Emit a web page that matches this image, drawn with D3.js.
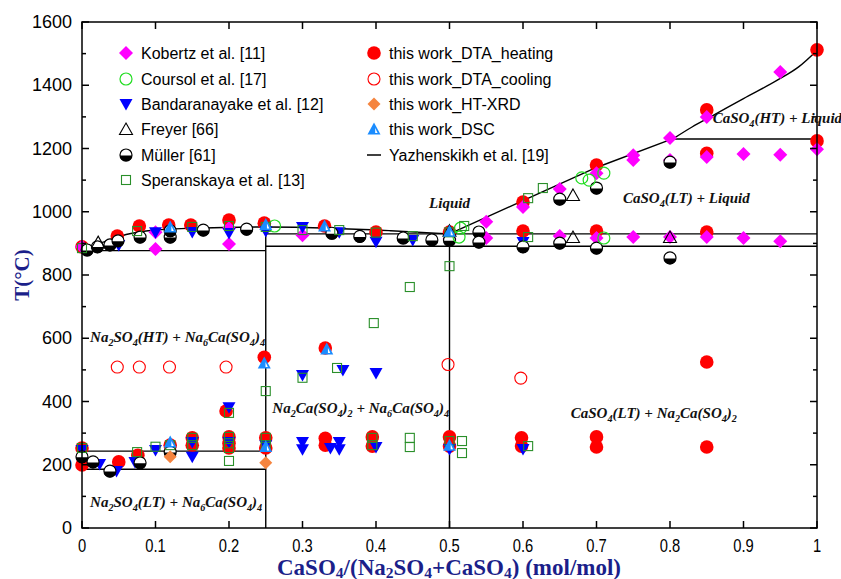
<!DOCTYPE html>
<html><head><meta charset="utf-8">
<script src="https://cdn.jsdelivr.net/npm/d3@7"></script>
<style>body{margin:0;background:#fff}</style>
</head><body><svg id="c" width="841" height="579"></svg>
<script>
// ---------- DATA ----------
const xTicks = [0,0.1,0.2,0.3,0.4,0.5,0.6,0.7,0.8,0.9,1];
const xTickLabels = ["0","0.1","0.2","0.3","0.4","0.5","0.6","0.7","0.8","0.9","1"];
const yTicks = [0,200,400,600,800,1000,1200,1400,1600];
const yMinorTicks = [100,300,500,700,900,1100,1300,1500];

const kobertz = [[0,889],[0.1,935],[0.1,882],[0.2,898],[0.2,948],[0.3,926],[0.5,914],[0.55,968],[0.55,917],[0.6,1015],[0.65,1072],[0.65,923],[0.7,1122],[0.7,917],[0.75,1179],[0.75,1164],[0.75,920],[0.8,1233],[0.8,1164],[0.8,920],[0.85,1300],[0.85,1173],[0.85,920],[0.9,1183],[0.9,917],[0.95,1442],[0.95,1180],[0.95,907],[1,1198]];
const coursol = [[0.262,955],[0.515,948],[0.513,920],[0.68,1107],[0.69,1100],[0.71,1122],[0.71,917]];
const bandaranayake = [[0.05,895],[0.1,935],[0.15,936],[0.2,933],[0.25,939],[0.3,952],[0.35,935],[0.4,905],[0.45,911],[0.6,904],
  [0.2,382],[0.3,484],[0.355,500],[0.4,490],
  [0,247],[0.024,202],[0.047,180],[0.072,209],[0.1,247],[0.15,272],[0.15,225],[0.2,272],[0.25,262],[0.3,272],[0.3,249],[0.338,253],[0.35,272],[0.35,249],[0.4,256],[0.5,250],[0.6,250]];
const freyer = [[0.022,904],[0.5,940],[0.668,1053],[0.668,920],[0.8,920]];
const muller = [[0.007,879],[0.021,889],[0.038,895],[0.049,908],[0.079,920],[0.12,920],[0.12,940],[0.165,942],[0.224,945],[0.34,932],[0.378,922],[0.437,917],[0.476,911],[0.5,910],[0.54,936],[0.54,904],[0.6,889],[0.65,1040],[0.65,901],[0.7,1075],[0.7,885],[0.8,1157],[0.8,854],
  [0,225],[0.015,209],[0.038,180],[0.079,206],[0.12,240]];
const speranskaya = [[0,885],[0.075,939],[0.15,952],[0.2,955],[0.25,952],[0.3,942],[0.35,942],[0.4,934],[0.45,923],[0.5,935],[0.52,955],[0.607,1043],[0.627,1075],[0.607,920],
  [0.25,433],[0.2,364],[0.3,475],[0.347,506],[0.397,648],[0.446,762],[0.5,828],
  [0,253],[0.075,240],[0.1,257],[0.12,262],[0.15,285],[0.15,262],[0.2,288],[0.2,268],[0.2,253],[0.2,212],[0.25,285],[0.25,262],[0.395,285],[0.395,262],[0.446,285],[0.446,256],[0.5,275],[0.517,275],[0.517,237],[0.607,259]];
const dtaHeating = [[0,889],[0.048,923],[0.078,955],[0.118,958],[0.148,958],[0.2,974],[0.248,964],[0.33,955],[0.4,936],[0.5,936],[0.6,1031],[0.6,939],[0.7,1148],[0.7,939],[0.85,1322],[0.85,1185],[0.85,936],[1,1512],[1,1224],
  [0.248,540],[0.196,370],[0.331,569],[0.85,525],
  [0,253],[0,199],[0.05,209],[0.076,230],[0.12,262],[0.15,285],[0.15,262],[0.2,288],[0.2,268],[0.2,253],[0.25,285],[0.25,253],[0.331,284],[0.331,262],[0.395,288],[0.395,259],[0.5,288],[0.5,259],[0.598,285],[0.598,259],[0.7,288],[0.7,256],[0.85,256]];
const dtaCooling = [[0.048,509],[0.078,509],[0.119,509],[0.196,509],[0.498,517],[0.597,474]];
const htxrd = [[0.12,225],[0.25,206]];
const dsc = [[0.12,952],[0.25,960],[0.33,955],[0.5,938],[0.248,522],[0.333,566],[0.12,272],[0.25,258],[0.5,262]];

// Yazhenskikh et al. [19] calculated lines
const liquidusLeft = [[0,885],[0.03,905],[0.06,928],[0.09,940],[0.15,948],[0.25,952],[0.34,948],[0.42,940],[0.5,930]];
const liquidusMid = [[0.5,930],[0.6,1035],[0.7,1140],[0.805,1232]];
const liquidusRight = [[0.805,1232],[0.83,1268],[0.86,1306],[0.9,1358],[0.946,1416],[0.975,1458],[1,1510]];
const horizontalLines = [[0,0.25,877],[0,0.25,243],[0,0.25,186],[0.25,1,930],[0.25,1,891],[0.805,1,1230]];
const verticalLines = [[0.25,0,930],[0.5,0,930]];

const legendNames = ["Kobertz et al. [11]","Coursol et al. [17]","Bandaranayake et al. [12]","Freyer [66]","Müller [61]","Speranskaya et al. [13]",
  "this work_DTA_heating","this work_DTA_cooling","this work_HT-XRD","this work_DSC","Yazhenskikh et al. [19]"];
const regionLabels = [
  {t:"Liquid", x:0.5, y:1013, a:"middle"},
  {t:"CaSO4(HT) + Liquid", x:0.858, y:1280, a:"start"},
  {t:"CaSO4(LT) + Liquid", x:0.736, y:1028, a:"start"},
  {t:"Na2SO4(HT) + Na6Ca(SO4)4", x:0.011, y:588, a:"start"},
  {t:"Na2Ca(SO4)2 + Na6Ca(SO4)4", x:0.259, y:364, a:"start"},
  {t:"CaSO4(LT) + Na2Ca(SO4)2", x:0.665, y:348, a:"start"},
  {t:"Na2SO4(LT) + Na6Ca(SO4)4", x:0.011, y:66, a:"start"}
];

// ---------- DRAW ----------
const svg = d3.select("#c");
const L=82,R=817,T=22,B=528;
const x = d3.scaleLinear([0,1],[L,R]);
const y = d3.scaleLinear([0,1600],[B,T]);

const C = {red:"#ff0000", mag:"#ff00ff", lime:"#22dd22", blue:"#0000ff", sq:"#2a8f2a", orange:"#f5843f", dsc:"#1a8cff"};

function mk(g, type){
  switch(type){
    case "diamond": g.append("path").attr("d","M0,-7L7,0L0,7L-7,0Z").attr("fill",C.mag); break;
    case "lime": g.append("circle").attr("r",6).attr("fill","none").attr("stroke",C.lime).attr("stroke-width",1.2); break;
    case "down": g.append("path").attr("d","M-6.5,-5L6.5,-5L0,6.5Z").attr("fill",C.blue); break;
    case "freyer": g.append("path").attr("d","M0,-6L6.5,5.5L-6.5,5.5Z").attr("fill","none").attr("stroke","#000").attr("stroke-width",1.1); break;
    case "muller":
      g.append("circle").attr("r",6).attr("fill","#fff").attr("stroke","#000").attr("stroke-width",1.2);
      g.append("path").attr("d","M-6,0.5A6,6 0 0 0 6,0.5Z").attr("fill","#000"); break;
    case "square": g.append("rect").attr("x",-4.5).attr("y",-4.5).attr("width",9).attr("height",9).attr("fill","none").attr("stroke",C.sq).attr("stroke-width",1.1); break;
    case "heat": g.append("circle").attr("r",6.8).attr("fill",C.red); break;
    case "cool": g.append("circle").attr("r",6).attr("fill","none").attr("stroke",C.red).attr("stroke-width",1.1); break;
    case "xrd": g.append("path").attr("d","M0,-6.5L6.5,0L0,6.5L-6.5,0Z").attr("fill",C.orange); break;
    case "dsc":
      g.append("path").attr("d","M0,-6.5L6.5,5.5L-6.5,5.5Z").attr("fill",C.dsc);
      g.append("path").attr("d","M1.2,-1L3.6,4L1.2,4Z").attr("fill","#fff"); break;
  }
}
function plot(data, type){
  const g = svg.append("g");
  g.selectAll("g").data(data).join("g")
    .attr("transform", d=>`translate(${x(d[0])},${y(d[1])})`)
    .each(function(){ mk(d3.select(this), type); });
}

// lines
const lineG = svg.append("g").attr("stroke","#000").attr("stroke-width",1.4).attr("fill","none");
const ln = d3.line().x(d=>x(d[0])).y(d=>y(d[1]));
const lnc = d3.line().x(d=>x(d[0])).y(d=>y(d[1])).curve(d3.curveMonotoneX);
lineG.append("path").attr("d", lnc(liquidusLeft));
lineG.append("path").attr("d", ln(liquidusMid));
lineG.append("path").attr("d", lnc(liquidusRight));
horizontalLines.forEach(h=>lineG.append("line").attr("x1",x(h[0])).attr("x2",x(h[1])).attr("y1",y(h[2])).attr("y2",y(h[2])));
verticalLines.forEach(v=>lineG.append("line").attr("x1",x(v[0])).attr("x2",x(v[0])).attr("y1",y(v[1])).attr("y2",y(v[2])));

// markers
plot(dtaHeating,"heat");
plot(dtaCooling,"cool");
plot(kobertz,"diamond");
plot(bandaranayake,"down");
plot(muller,"muller");
plot(freyer,"freyer");
plot(coursol,"lime");
plot(speranskaya,"square");
plot(htxrd,"xrd");
plot(dsc,"dsc");

// frame and ticks
const ax = svg.append("g").attr("stroke","#000").attr("stroke-width",1.5);
ax.append("rect").attr("x",L).attr("y",T).attr("width",R-L).attr("height",B-T).attr("fill","none");
xTicks.forEach(t=>{
  ax.append("line").attr("x1",x(t)).attr("x2",x(t)).attr("y1",B).attr("y2",B-7);
  ax.append("line").attr("x1",x(t)).attr("x2",x(t)).attr("y1",T).attr("y2",T+7);
});
yTicks.forEach(t=>{
  ax.append("line").attr("x1",L).attr("x2",L+7).attr("y1",y(t)).attr("y2",y(t));
  ax.append("line").attr("x1",R).attr("x2",R-7).attr("y1",y(t)).attr("y2",y(t));
});
yMinorTicks.forEach(t=>{
  ax.append("line").attr("x1",L).attr("x2",L+4).attr("y1",y(t)).attr("y2",y(t));
  ax.append("line").attr("x1",R).attr("x2",R-4).attr("y1",y(t)).attr("y2",y(t));
});
svg.append("g").selectAll("text").data(yTicks).join("text")
  .attr("x",L-10).attr("y",d=>y(d)+6).attr("text-anchor","end")
  .attr("font-family","Liberation Sans, Arial, sans-serif").attr("font-size",18).text(d=>d);
svg.append("g").selectAll("text").data(xTicks).join("text")
  .attr("transform",(d,i)=>`translate(${x(d)},${B+24}) scale(0.82,1)`).attr("text-anchor","middle")
  .attr("font-family","Liberation Sans, Arial, sans-serif").attr("font-size",18).text((d,i)=>xTickLabels[i]);

// chemical formula text: digits become subscripts
function chem(sel, str, fs, shift){
  const parts = str.split(/(\d)/).filter(p=>p!=="");
  const s = shift!==undefined ? shift : fs*0.25;
  let shifted = false;
  parts.forEach(p=>{
    if(/^\d$/.test(p)){
      sel.append("tspan").attr("font-size",fs*0.68).attr("dy",shifted?0:s).text(p);
      shifted = true;
    } else {
      sel.append("tspan").attr("dy",shifted?-s:0).text(p);
      shifted = false;
    }
  });
}
const navy = "#1b1f8a";
const xt = svg.append("text").attr("x",449).attr("y",575).attr("text-anchor","middle")
  .attr("font-family","Liberation Serif, Times New Roman, serif").attr("font-weight","bold").attr("font-size",23).attr("fill",navy);
chem(xt,"CaSO4/(Na2SO4+CaSO4) (mol/mol)",23,2.5);
svg.append("text").attr("transform",`translate(29,${(T+B)/2}) rotate(-90)`).attr("text-anchor","middle")
  .attr("font-family","Liberation Serif, Times New Roman, serif").attr("font-weight","bold").attr("font-size",21).attr("fill",navy).text("T(°C)");

regionLabels.forEach(r=>{
  const t = svg.append("text").attr("x",x(r.x)).attr("y",y(r.y)).attr("text-anchor",r.a)
    .attr("font-family","Liberation Serif, Times New Roman, serif").attr("font-weight","bold").attr("font-style","italic").attr("font-size",15).attr("fill","#111");
  chem(t, r.t, 15);
});

// legend
const legTypes = ["diamond","lime","down","freyer","muller","square","heat","cool","xrd","dsc","line"];
const legRows = [53,79,104,129,155,180];
legendNames.forEach((n,i)=>{
  const col = i<6?0:1, row = i<6?i:i-6;
  const mx = col===0?126:374, ty = legRows[row];
  const g = svg.append("g").attr("transform",`translate(${mx},${ty})`);
  if(legTypes[i]==="line") g.append("line").attr("x1",-7).attr("x2",7).attr("stroke","#000").attr("stroke-width",1.5);
  else mk(g, legTypes[i]);
  svg.append("text").attr("x",mx+15).attr("y",ty+6).attr("font-family","Liberation Sans, Arial, sans-serif").attr("font-size",16).text(n);
});
</script></body></html>
